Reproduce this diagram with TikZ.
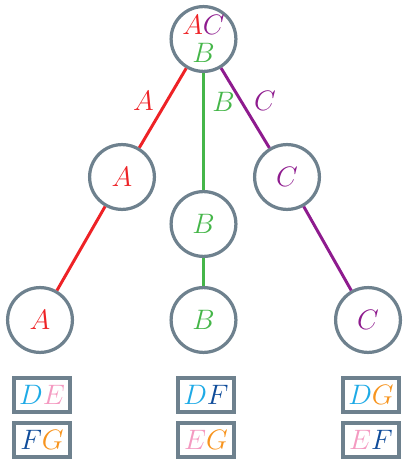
\documentclass[tikz,border=0pt]{standalone}
\usepackage{fix-cm}
\usepackage{amsmath}
\usepackage{amssymb}
\usepackage{tikz}
\definecolor{ringgray}{HTML}{6E818E}
\definecolor{cA}{HTML}{EE2226}
\definecolor{cB}{HTML}{45B649}
\definecolor{cC}{HTML}{8E1B8E}
\definecolor{cD}{HTML}{1EAAE6}
\definecolor{cE}{HTML}{F49AC1}
\definecolor{cF}{HTML}{0F4C9A}
\definecolor{cG}{HTML}{F7941E}

\begin{document}
\begin{tikzpicture}[x=0.025cm,y=-0.025cm,
  vtx/.style={circle,draw=ringgray,line width=2.3pt,minimum size=1.62cm,inner sep=0pt,font=\fontsize{20}{18}\selectfont},
  pairbox/.style={rectangle,draw=ringgray,line width=2.8pt,minimum width=1.4cm,minimum height=0.85cm,inner sep=0pt,font=\fontsize{20}{20}\selectfont},
  edg/.style={line width=2.1pt},
  lbl/.style={font=\fontsize{20}{20}\selectfont}]
  \useasboundingbox (0,0) rectangle (410,464);
  \node[vtx,align=center] (r) at (203.5,39) {$\color{cA}A\color{cC}C$\\[2pt]$\color{cB}B$};
  \node[vtx] (a1) at (122,177) {$\color{cA}A$};
  \node[vtx] (b1) at (203.5,224) {$\color{cB}B$};
  \node[vtx] (c1) at (287,177) {$\color{cC}C$};
  \node[vtx] (a2) at (40,320) {$\color{cA}A$};
  \node[vtx] (b2) at (203.5,320) {$\color{cB}B$};
  \node[vtx] (c2) at (368,320) {$\color{cC}C$};
  \draw[edg,cA] (r) -- node[lbl,pos=0.41,left=5pt] {$A$} (a1);
  \draw[edg,cB] (r) -- node[lbl,pos=0.25,right=2pt] {$B$} (b1);
  \draw[edg,cC] (r) -- node[lbl,pos=0.41,right=5pt] {$C$} (c1);
  \draw[edg,cA] (a1) -- (a2);
  \draw[edg,cB] (b1) -- (b2);
  \draw[edg,cC] (c1) -- (c2);
  \node[pairbox] (de) at (42,395) {$\color{cD}D\color{cE}E$};
  \node[pairbox] (fg) at (42,440) {$\color{cF}F\color{cG}G$};
  \node[pairbox] (df) at (206,395) {$\color{cD}D\color{cF}F$};
  \node[pairbox] (eg) at (206,440) {$\color{cE}E\color{cG}G$};
  \node[pairbox] (dg) at (371,395) {$\color{cD}D\color{cG}G$};
  \node[pairbox] (ef) at (371,440) {$\color{cE}E\color{cF}F$};
\end{tikzpicture}
\end{document}
